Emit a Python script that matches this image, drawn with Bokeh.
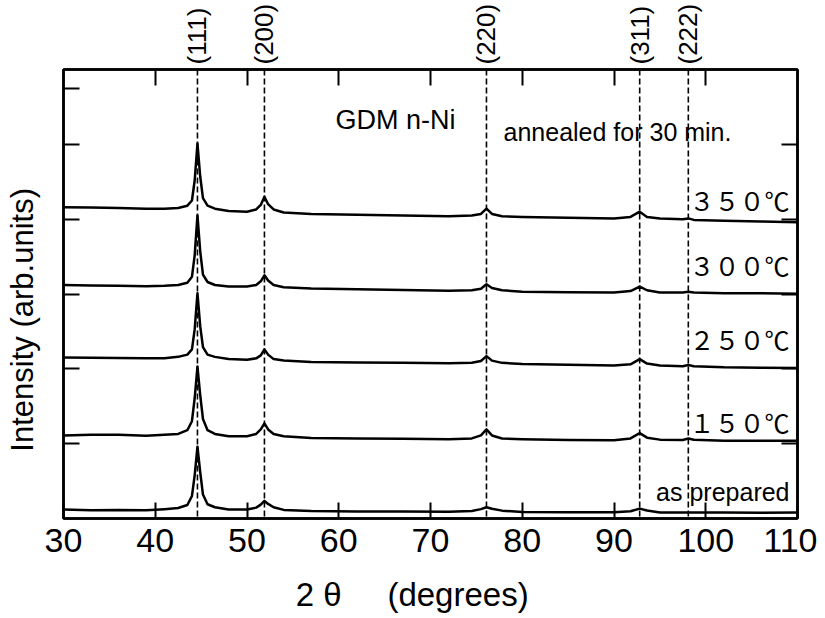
import math
from bokeh.plotting import figure
from bokeh.models import Range1d, FixedTicker, LinearAxis, Span, Label, CustomJSTickFormatter
from bokeh.embed import file_html
from bokeh.resources import INLINE

# ---------------- data ----------------
TWO_THETA = [30, 33, 36, 39, 41, 42.5, 43.5, 44.0, 44.3, 44.6, 44.9, 45.2, 45.7, 46.5,
             48, 50, 51.0, 51.5, 51.9, 52.3, 52.9, 54, 57, 62, 67, 72, 74.5, 75.5,
             76.1, 76.7, 77.8, 80, 85, 90, 91.8, 92.8, 93.6, 95, 97.5, 98.1, 98.7,
             102, 106, 110]

I_AS_PREPARED = [0.12, 0.11, 0.115, 0.11, 0.125, 0.14, 0.18, 0.30, 0.58, 0.96, 0.62, 0.32,
                 0.19, 0.15, 0.12, 0.12, 0.145, 0.185, 0.235, 0.195, 0.15, 0.115, 0.10,
                 0.095, 0.095, 0.09, 0.10, 0.125, 0.15, 0.13, 0.105, 0.088, 0.085, 0.082,
                 0.097, 0.132, 0.106, 0.08, 0.08, 0.08, 0.08, 0.08, 0.078, 0.08]

I_150C = [1.11, 1.12, 1.12, 1.105, 1.12, 1.13, 1.18, 1.30, 1.61, 2.03, 1.65, 1.33, 1.18,
          1.13, 1.10, 1.10, 1.13, 1.19, 1.27, 1.19, 1.13, 1.10, 1.075, 1.07, 1.065, 1.06,
          1.07, 1.11, 1.19, 1.11, 1.07, 1.06, 1.05, 1.046, 1.07, 1.14, 1.08, 1.054, 1.05,
          1.07, 1.053, 1.04, 1.04, 1.04]

I_250C = [2.15, 2.148, 2.145, 2.14, 2.14, 2.16, 2.19, 2.26, 2.53, 3.01, 2.57, 2.29, 2.19,
          2.16, 2.13, 2.12, 2.14, 2.18, 2.26, 2.19, 2.13, 2.11, 2.09, 2.085, 2.08, 2.075,
          2.08, 2.105, 2.17, 2.11, 2.08, 2.065, 2.055, 2.045, 2.06, 2.13, 2.07, 2.045,
          2.035, 2.05, 2.035, 2.02, 2.015, 2.01]

I_300C = [3.12, 3.115, 3.11, 3.105, 3.11, 3.12, 3.15, 3.23, 3.52, 4.05, 3.57, 3.26, 3.16,
          3.12, 3.10, 3.10, 3.12, 3.17, 3.25, 3.18, 3.12, 3.09, 3.075, 3.065, 3.055, 3.045,
          3.05, 3.07, 3.13, 3.08, 3.05, 3.03, 3.025, 3.02, 3.04, 3.10, 3.05, 3.02, 3.02,
          3.03, 3.02, 3.01, 3.01, 3.005]

I_350C = [4.16, 4.155, 4.15, 4.14, 4.14, 4.15, 4.18, 4.25, 4.52, 5.01, 4.57, 4.28, 4.18,
          4.14, 4.11, 4.10, 4.13, 4.19, 4.30, 4.20, 4.13, 4.09, 4.07, 4.06, 4.05, 4.04,
          4.05, 4.07, 4.14, 4.07, 4.04, 4.03, 4.02, 4.01, 4.03, 4.10, 4.03, 4.01, 4.00,
          4.01, 3.99, 3.98, 3.97, 3.96]

PEAK_POS = [44.6, 51.9, 76.1, 92.8, 98.1]
PEAK_HKL = ["(111)", "(200)", "(220)", "(311)", "(222)"]

X_TICKS = [30, 40, 50, 60, 70, 80, 90, 100, 110]
TOP_TICKS = [40, 50, 60, 70, 80, 90, 100]
LEFT_TICKS = [1, 2, 3, 4, 5, 5.75]
RIGHT_TICKS = [1, 2, 3, 4, 5]

TEMP_LABELS = ["as prepared", "１５０℃", "２５０℃", "３００℃", "３５０℃"]
TEMP_LABEL_Y = [0.35, 1.29, 2.40, 3.39, 4.26]

NB = "\u00a0"
X_TITLE = "2" + NB + "θ" + NB * 5 + "(degrees)" + NB * 4
Y_TITLE = "Intensity (arb.units)" + NB * 6

# ---------------- figure ----------------
FONT = "Liberation Sans"
p = figure(width=817, height=615, x_range=Range1d(30, 110), y_range=Range1d(0, 6),
           output_backend="svg", toolbar_location=None,
           min_border_left=63, min_border_right=20, min_border_top=68, min_border_bottom=96)
p.grid.visible = False
p.outline_line_color = "black"
p.outline_line_width = 2.5
p.background_fill_color = "white"
p.border_fill_color = "white"

blank = CustomJSTickFormatter(code="return '';")


def style_axis(ax, ticks, labels=False):
    ax.ticker = FixedTicker(ticks=ticks)
    ax.major_tick_in = 16
    ax.major_tick_out = 0
    ax.major_tick_line_width = 2
    ax.major_tick_line_color = "black"
    ax.minor_tick_line_color = None
    ax.axis_line_color = "black"
    ax.axis_line_width = 2.5
    if labels:
        ax.major_label_text_font = FONT
        ax.major_label_text_font_size = "34px"
        ax.major_label_text_color = "black"
        ax.major_label_standoff = 10
    else:
        ax.formatter = blank
        ax.major_label_standoff = 0


style_axis(p.xaxis[0], X_TICKS, labels=True)
p.xaxis[0].axis_label = X_TITLE
p.xaxis[0].axis_label_text_font = FONT
p.xaxis[0].axis_label_text_font_style = "normal"
p.xaxis[0].axis_label_text_font_size = "33px"
p.xaxis[0].axis_label_text_color = "black"
p.xaxis[0].axis_label_standoff = 21

style_axis(p.yaxis[0], LEFT_TICKS)
p.yaxis[0].axis_label = Y_TITLE
p.yaxis[0].axis_label_text_font = FONT
p.yaxis[0].axis_label_text_font_style = "normal"
p.yaxis[0].axis_label_text_font_size = "31px"
p.yaxis[0].axis_label_text_color = "black"
p.yaxis[0].axis_label_standoff = 24

# top axis: hkl labels on the reflection positions, plain ticks every 10 degrees
top = LinearAxis()
top.ticker = FixedTicker(ticks=PEAK_POS, minor_ticks=TOP_TICKS)
top.formatter = CustomJSTickFormatter(args=dict(pos=PEAK_POS, lab=PEAK_HKL),
                                      code="const i = pos.indexOf(tick); return i >= 0 ? lab[i] : '';")
top.major_tick_in = 0
top.major_tick_out = 0
top.minor_tick_in = 16
top.minor_tick_out = 0
top.minor_tick_line_width = 2
top.minor_tick_line_color = "black"
top.axis_line_color = "black"
top.axis_line_width = 2.5
top.major_label_orientation = "vertical"
top.major_label_text_font = FONT
top.major_label_text_font_size = "26px"
top.major_label_text_color = "black"
top.major_label_standoff = 5
p.add_layout(top, "above")

right = LinearAxis()
style_axis(right, RIGHT_TICKS)
p.add_layout(right, "right")

# dashed reflection lines
for pk in PEAK_POS:
    p.add_layout(Span(location=pk, dimension="height", line_color="black",
                      line_width=1.6, line_dash="6 3"))

# traces
for ys in [I_AS_PREPARED, I_150C, I_250C, I_300C, I_350C]:
    p.line(TWO_THETA, ys, line_color="black", line_width=2.5, line_join="round")

# temperature labels
for t, ty in zip(TEMP_LABELS, TEMP_LABEL_Y):
    is_cjk = t != "as prepared"
    p.add_layout(Label(x=109.13, y=ty, text=t, text_align="right",
                       text_baseline="alphabetic",
                       text_font="Noto Sans CJK JP" if is_cjk else FONT,
                       text_font_size="25px", text_color="black"))

p.add_layout(Label(x=59.65, y=5.32, text="GDM n-Ni", text_align="left",
                   text_baseline="alphabetic", text_font=FONT, text_font_size="27px",
                   text_color="black"))
p.add_layout(Label(x=77.96, y=5.16, text="annealed for 30 min.", text_align="left",
                   text_baseline="alphabetic", text_font=FONT, text_font_size="25px",
                   text_color="black"))

open("out.html", "w").write(file_html(p, INLINE))
